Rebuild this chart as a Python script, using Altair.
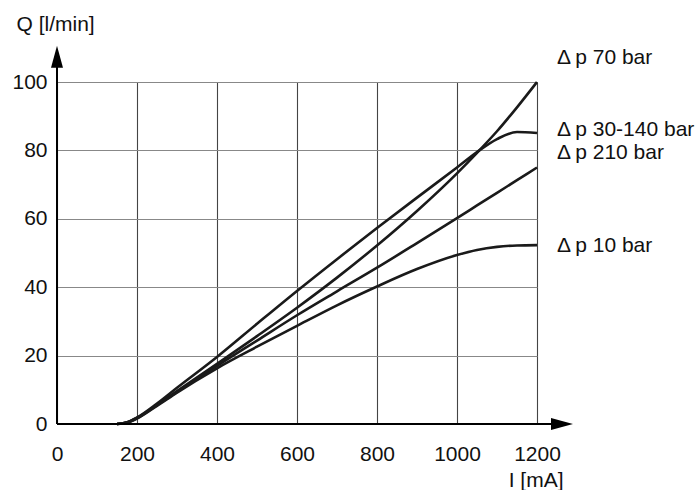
import altair as alt
import pandas as pd

# ---------------- data ----------------
currents = [150, 175, 200, 250, 300, 400, 500, 600, 700, 800, 900, 1000, 1050, 1100, 1150, 1200]
q_70 = [0, 0.5, 1.8, 5.6, 9.6, 17.6, 25.7, 34.0, 42.8, 52.2, 62.3, 73.3, 79.3, 85.6, 92.6, 100]
q_30_140 = [0, 0.5, 1.9, 6.0, 10.6, 19.6, 29.3, 38.9, 48.2, 57.3, 66.2, 75.0, 79.5, 83.3, 85.4, 85.1]
q_210 = [0, 0.4, 1.7, 5.5, 9.4, 17.0, 24.4, 31.8, 38.8, 45.7, 52.9, 60.2, 63.9, 67.6, 71.3, 75.0]
q_10 = [0, 0.4, 1.6, 5.3, 9.2, 16.3, 22.6, 28.7, 34.7, 40.2, 45.3, 49.4, 50.9, 51.8, 52.2, 52.3]

series_names = ["70 bar", "30-140 bar", "210 bar", "10 bar"]
series_values = [q_70, q_30_140, q_210, q_10]

label_texts = ["\u0394\u2009p 70 bar", "\u0394\u2009p 30-140 bar", "\u0394\u2009p 210 bar", "\u0394\u2009p 10 bar"]
label_q = [107.0, 85.9, 79.2, 52.0]
label_i = [1250, 1250, 1250, 1250]

x_ticks = [0, 200, 400, 600, 800, 1000, 1200]
y_ticks = [0, 20, 40, 60, 80, 100]

FONT = "Liberation Sans"
FS = 21

rows = []
for name, vals in zip(series_names, series_values):
    for i, q in zip(currents, vals):
        rows.append({"series": name, "I": i, "Q": q})
curves_df = pd.DataFrame(rows)
labels_df = pd.DataFrame({"I": label_i, "Q": label_q, "text": label_texts})

xs = alt.Scale(domain=[0, 1200], nice=False, zero=False)
ys = alt.Scale(domain=[0, 100], nice=False, zero=False)

x_axis = alt.Axis(
    values=x_ticks, format="d", grid=True, gridColor="#444444", gridWidth=1.1,
    domain=False, ticks=False, tickSize=0,
    labelFont=FONT, labelFontSize=FS, labelColor="#111111",
    labelPadding=36, labelBaseline="alphabetic", labelFlush=False,
    title="I [mA]", titleFont=FONT, titleFontSize=FS, titleFontWeight="normal",
    titleColor="#111111", titleAlign="right", titleBaseline="alphabetic",
    titleX=506, titleY=62, titleAngle=0,
)
y_axis = alt.Axis(
    values=y_ticks, format="d", grid=True, gridColor="#888888", gridWidth=1.1,
    domain=False, ticks=False, tickSize=0,
    labelFont=FONT, labelFontSize=FS, labelColor="#111111",
    labelPadding=10, labelBaseline="middle", labelFlush=False,
    title="Q [l/min]", titleFont=FONT, titleFontSize=FS, titleFontWeight="normal",
    titleColor="#111111", titleAlign="left", titleBaseline="alphabetic",
    titleX=-41, titleY=-52, titleAngle=0,
)

curves = alt.Chart(curves_df).mark_line(
    color="#1a1a1a", strokeWidth=2.6, interpolate="monotone"
).encode(
    x=alt.X("I:Q", scale=xs, axis=x_axis),
    y=alt.Y("Q:Q", scale=ys, axis=y_axis),
    detail="series:N",
)

# axis lines with arrows
xline = alt.Chart(pd.DataFrame({"a": [0], "b": [1255], "y": [0]})).mark_rule(
    color="black", strokeWidth=2
).encode(x=alt.X("a:Q", scale=xs), x2="b:Q", y=alt.Y("y:Q", scale=ys))
yline = alt.Chart(pd.DataFrame({"x": [0], "a": [0], "b": [105]})).mark_rule(
    color="black", strokeWidth=2
).encode(x=alt.X("x:Q", scale=xs), y=alt.Y("a:Q", scale=ys), y2="b:Q")

x_arrow = alt.Chart(pd.DataFrame({"x": [1262.5], "y": [0]})).mark_point(
    shape="M-1,-0.545L1,0L-1,0.545Z", size=484, filled=True, color="black", opacity=1
).encode(x=alt.X("x:Q", scale=xs), y=alt.Y("y:Q", scale=ys))
y_arrow = alt.Chart(pd.DataFrame({"x": [0], "y": [107.4]})).mark_point(
    shape="M-0.545,1L0,-1L0.545,1Z", size=484, filled=True, color="black", opacity=1
).encode(x=alt.X("x:Q", scale=xs), y=alt.Y("y:Q", scale=ys))

labels = alt.Chart(labels_df).mark_text(
    align="left", baseline="middle", font=FONT, fontSize=FS, color="#111111"
).encode(x=alt.X("I:Q", scale=xs), y=alt.Y("Q:Q", scale=ys), text="text:N")

chart = alt.layer(curves, xline, yline, x_arrow, y_arrow, labels).properties(
    width=480, height=342,
    autosize=alt.AutoSizeParams(type="none"),
    padding={"left": 57, "top": 82, "right": 163, "bottom": 66},
    background="white",
).configure_view(stroke=None)

chart.save("out.html", embed_options={"renderer": "svg", "actions": False})
